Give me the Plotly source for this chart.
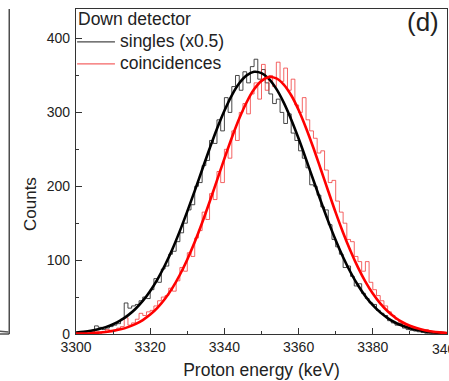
import plotly.graph_objects as go

# ---------------- data ----------------
bin_edges = list(range(3300, 3401))  # 1 keV bins, 3300..3400

singles_counts = [0, 0, 2, 4, 3, 11, 9, 6, 8, 10,
                  12, 14, 20, 42, 35, 38, 40, 45, 50, 48,
                  60, 75, 70, 88, 92, 108, 112, 125, 137, 150,
                  168, 175, 200, 205, 228, 235, 262, 258, 290, 275,
                  320, 300, 335, 350, 330, 355, 340, 362, 372, 345,
                  358, 340, 325, 312, 318, 300, 285, 298, 272, 262,
                  248, 238, 225, 202, 200, 188, 172, 168, 148, 128,
                  118, 108, 90, 92, 78, 65, 68, 55, 48, 42,
                  40, 32, 28, 25, 18, 15, 12, 14, 8, 6,
                  5, 4, 3, 2, 1, 1, 0, 0, 0, 0]

coinc_counts = [0, 0, 0, 0, 1, 2, 1, 3, 6, 4,
                5, 8, 10, 22, 12, 15, 20, 28, 25, 30,
                32, 38, 45, 50, 52, 62, 58, 72, 90, 85,
                110, 105, 130, 140, 165, 155, 190, 182, 220, 205,
                250, 238, 275, 262, 300, 312, 298, 325, 340, 318,
                365, 330, 350, 335, 368, 342, 360, 330, 345, 310,
                300, 320, 290, 275, 265, 245, 248, 222, 205, 208,
                180, 165, 150, 128, 125, 105, 98, 85, 98, 70,
                60, 52, 45, 38, 30, 25, 20, 15, 12, 10,
                8, 6, 5, 4, 6, 2, 1, 0, 0, 0]

fit_energy = list(range(3300, 3401, 2))
singles_fit = [1.9, 2.9, 4.3, 6.4, 9.3, 13.2, 18.4, 25.2, 33.9, 44.8,
               58.3, 74.4, 93.4, 115.1, 139.6, 166.0, 193.8, 222.4, 250.8, 277.9,
               302.3, 323.2, 339.4, 350.1, 355.0, 353.2, 345.5, 331.9, 313.3, 290.5,
               264.6, 236.7, 208.1, 179.8, 152.5, 127.0, 103.9, 83.6, 66.0, 51.2,
               39.0, 29.3, 21.6, 15.6, 11.1, 7.7, 5.3, 3.6, 2.4, 1.5, 1.0]
coinc_fit = [0.5, 0.7, 1.1, 1.8, 2.7, 4.2, 6.3, 9.3, 13.4, 18.9,
             26.3, 35.8, 47.7, 62.5, 80.2, 100.9, 124.5, 150.6, 178.7, 208.0,
             237.4, 265.7, 291.7, 313.8, 331.2, 342.7, 347.8, 346.1, 337.7, 323.2,
             303.3, 279.0, 251.8, 222.7, 193.3, 164.4, 137.2, 112.4, 90.2, 70.9,
             54.7, 41.4, 30.7, 22.4, 15.9, 11.2, 7.7, 5.2, 3.4, 2.2, 1.4]

x_ticks = [3300, 3320, 3340, 3360, 3380, 3400]
y_ticks = [0, 100, 200, 300, 400]

series_names = ["singles (x0.5)", "coincidences"]
hist_colors = ["rgba(40,40,40,0.85)", "rgba(240,50,50,0.75)"]
fit_colors = ["black", "#ff0000"]

FONT = "Liberation Sans, Arial, sans-serif"
TXT = "#222222"

fig = go.Figure()

for counts, name, col in zip([singles_counts, coinc_counts], series_names, hist_colors):
    fig.add_trace(go.Scatter(
        x=bin_edges, y=counts + [counts[-1]],
        mode="lines", line=dict(color=col, width=1, shape="hv"),
        name=name, showlegend=False))
for fit, col in zip([singles_fit, coinc_fit], fit_colors):
    fig.add_trace(go.Scatter(
        x=fit_energy, y=fit, mode="lines",
        line=dict(color=col, width=2.6, shape="spline"), showlegend=False))

axis_common = dict(
    showline=True, linecolor="#333333", linewidth=1.3, mirror=True,
    ticks="inside", ticklen=6, tickwidth=1.2, tickcolor="#333333",
    showgrid=False, zeroline=False,
    tickfont=dict(family=FONT, size=14, color=TXT),
)

# last x tick label is drawn as an annotation so it can run off the page edge
x_ticktext = [str(v) for v in x_ticks[:-1]] + [""]

fig.update_xaxes(
    range=[3300, 3400], tickvals=x_ticks,
    ticktext=x_ticktext,
    minor=dict(ticks="inside", ticklen=3, dtick=10, tickcolor="#333333", tickwidth=1.2),
    title=dict(text="Proton energy (keV)", font=dict(family=FONT, size=17.5, color=TXT), standoff=9),
    **axis_common)
fig.update_yaxes(
    range=[0, 440], tickvals=y_ticks,
    minor=dict(ticks="inside", ticklen=3, dtick=50, tickcolor="#333333", tickwidth=1.2),
    ticklabelstandoff=2,
    **axis_common)

# manual legend (paper coordinates)
leg_x0, leg_x1, leg_tx = 0.003, 0.105, 0.113
leg_rows = [0.899, 0.831]
legend_shapes = [
    dict(type="line", xref="paper", yref="paper", x0=leg_x0, x1=leg_x1, y0=yy, y1=yy,
         line=dict(color=col, width=1.2))
    for yy, col in zip(leg_rows, hist_colors)
]
legend_texts = [
    dict(text=name, xref="paper", yref="paper", x=leg_tx, y=yy + 0.004,
         xanchor="left", yanchor="middle", showarrow=False,
         font=dict(family=FONT, size=17.5, color=TXT))
    for yy, name in zip(leg_rows, series_names)
]

fig.update_layout(
    width=449, height=381,
    margin=dict(l=76, r=2, t=9, b=47),
    paper_bgcolor="white", plot_bgcolor="white",
    font=dict(family=FONT, color=TXT),
    showlegend=False,
    annotations=[
        dict(text="Down detector", xref="paper", yref="paper", x=0.0, y=0.97,
             xanchor="left", yanchor="middle", showarrow=False,
             font=dict(family=FONT, size=17.5, color=TXT)),
        dict(text="(d)", xref="paper", yref="paper", x=1.0, y=1.0,
             xanchor="right", yanchor="top", showarrow=False, xshift=-6, yshift=4,
             font=dict(family=FONT, size=26, color=TXT)),
        dict(text="Counts", xref="paper", yref="paper", x=-0.124, y=0.40,
             xanchor="center", yanchor="middle",
             textangle=-90, showarrow=False,
             font=dict(family=FONT, size=17, color=TXT)),
        dict(text=str(x_ticks[-1]), xref="x", yref="paper", x=x_ticks[-1], y=0,
             xanchor="center", yanchor="top", showarrow=False, yshift=-5,
             font=dict(family=FONT, size=14, color=TXT)),
    ] + legend_texts,
    shapes=[
        # edge of neighbouring panel (cut off)
        dict(type="line", xref="paper", yref="paper", x0=-0.180, x1=-0.180, y0=0, y1=1,
             line=dict(color="#333333", width=1.3)),
        dict(type="line", xref="paper", yref="paper", x0=-0.21, x1=-0.180, y0=0, y1=0,
             line=dict(color="#333333", width=1.3)),
        dict(type="line", xref="paper", yref="paper", x0=-0.21, x1=-0.182, y0=0.009, y1=0.006,
             line=dict(color="#555555", width=1.5)),
    ] + legend_shapes,
)

fig.write_html("out.html")
